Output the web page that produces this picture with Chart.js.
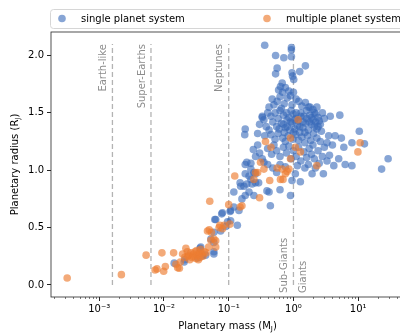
<!DOCTYPE html>
<html>
<head>
<meta charset="utf-8">
<script src="https://cdn.jsdelivr.net/npm/chart.js@4/dist/chart.umd.min.js"></script>
<style>
  html, body { margin: 0; padding: 0; overflow: hidden; background: #fff; }
  #wrap { width: 410px; height: 333px; }
</style>
</head>
<body>
<div id="wrap"><canvas id="chart" width="410" height="333"></canvas></div>
<script>
// [mass (M_J), radius (R_J)]
const singleNeptunes = [
  [0.0144,0.19],[0.0205,0.20],[0.021,0.22],[0.033,0.235],[0.039,0.255],[0.044,0.26],[0.059,0.27],
  [0.037,0.33],[0.053,0.40],[0.059,0.37],[0.059,0.29],[0.036,0.32],[0.059,0.46],
  [0.061,0.57],[0.078,0.62],[0.075,0.47],[0.063,0.57],[0.080,0.63],[0.090,0.51],[0.096,0.55],
  [0.105,0.64],[0.107,0.56],[0.136,0.52],[0.107,0.65],[0.12,0.68],[0.144,0.65],
  [0.12,0.81],[0.153,0.86],[0.172,0.86],[0.16,0.75],[0.206,0.81],[0.245,0.78],[0.206,0.95],
  [0.26,0.97],[0.29,0.89],[0.18,1.05],[0.22,1.06],[0.19,1.07],[0.18,0.97],[0.22,1.01],
  [0.245,0.98],[0.22,0.92],[0.19,0.88],[0.15,0.89],[0.23,0.88],[0.26,0.89],[0.18,0.78],
  [0.39,0.82],[0.42,0.81],[0.44,0.69],[0.62,0.83],[0.90,0.78],[0.18,1.36],[0.177,1.31]
];
const singlePlume = [
  [0.36,2.09],[0.93,2.07],[0.93,2.05],[0.93,1.99],[0.71,1.98],[0.53,2.00],[1.53,1.91],[1.25,1.86],
  [0.95,1.85],[0.56,1.89],[0.53,1.84],[1.01,1.79],[0.97,1.82],[0.67,1.76],[0.63,1.73],[0.59,1.70],
  [0.68,1.68],[0.85,1.69],[1.00,1.68],[0.75,1.72],[0.47,1.62],[0.56,1.60],[0.62,1.64],[0.80,1.63],
  [0.90,1.65],[1.21,1.60],[1.53,1.59],[1.72,1.55],[2.30,1.55],[0.42,1.55],[0.50,1.57],[0.72,1.58],
  [0.95,1.57],[1.10,1.62],[1.35,1.56],[0.65,1.54]
];
const singleCore = [
  [0.33,1.46],[0.35,1.44],[0.40,1.50],[0.45,1.47],[0.52,1.50],[0.58,1.45],[0.62,1.52],[0.70,1.48],
  [0.78,1.50],[0.85,1.46],[0.92,1.52],[1.00,1.49],[1.10,1.45],[1.30,1.50],[1.45,1.47],[1.60,1.52],
  [1.80,1.48],[2.00,1.44],[2.20,1.42],[2.40,1.46],[2.60,1.40],[2.10,1.38],[2.30,1.36],[2.50,1.43],
  [3.70,1.47],[5.20,1.48],[2.80,1.50],[3.00,1.45],
  [0.30,1.40],[0.38,1.38],[0.42,1.35],[0.48,1.42],[0.55,1.38],[0.60,1.36],[0.65,1.41],[0.72,1.33],
  [0.80,1.38],[0.88,1.35],[0.95,1.41],[1.05,1.36],[1.15,1.39],[1.25,1.33],[1.40,1.37],[1.55,1.41],
  [1.70,1.35],[1.90,1.40],[2.05,1.32],[2.70,1.34],[3.50,1.30],[4.40,1.30],[5.50,1.28],[10.4,1.34],
  [8.00,1.24],[12.5,1.23],
  [0.28,1.32],[0.36,1.30],[0.45,1.31],[0.52,1.27],[0.58,1.32],[0.68,1.28],[0.75,1.25],[0.83,1.30],
  [0.98,1.27],[1.08,1.31],[1.20,1.26],[1.35,1.29],[1.50,1.24],[1.65,1.30],[1.85,1.26],[2.00,1.22],
  [2.30,1.28],[2.60,1.25],[3.00,1.20],[3.30,1.24],[4.00,1.22],[6.00,1.20],
  [0.90,1.42],[1.05,1.44],[1.20,1.43],[1.40,1.42],[1.25,1.38],[1.60,1.45],[1.75,1.42],[2.20,1.49],
  [0.70,1.40],[0.80,1.44],[1.30,1.47],[1.10,1.50],[1.90,1.46],[2.10,1.50],[2.40,1.38],[1.50,1.33],
  [1.00,1.33],[0.75,1.37],[2.00,1.53],[1.80,1.55],[0.33,1.47]
];
const singleLower = [
  [0.28,1.22],[0.30,1.15],[0.33,1.10],[0.35,1.07],[0.40,1.19],[0.46,1.14],[0.50,1.22],[0.55,1.17],
  [0.62,1.12],[0.70,1.20],[0.78,1.15],[0.85,1.21],[0.92,1.10],[1.00,1.17],[1.10,1.12],[1.20,1.20],
  [1.30,1.08],[1.45,1.16],[1.60,1.11],[1.75,1.19],[1.90,1.14],[2.10,1.10],[2.40,1.17],[2.80,1.12],
  [3.30,1.08],[4.20,1.04],[6.30,1.05],[8.00,1.04],[29.0,1.10],[23.0,1.01],[2.90,0.97],[1.94,0.97],
  [2.18,1.02],[1.28,0.90],[0.95,0.91],[1.07,0.97],[0.62,1.05],[0.48,1.02],[0.40,1.05],[0.75,1.03],
  [1.50,1.02],[1.15,1.04],[0.55,0.98],[1.70,1.05],[2.50,1.06],[3.60,1.13],[5.00,1.10],[0.26,1.12],
  [0.24,1.18]
];
const multiSmall = [
  [0.00032,0.06],[0.0022,0.09],[0.0053,0.26],[0.0073,0.13],[0.0078,0.14],[0.0093,0.28],[0.0099,0.12],
  [0.0105,0.16],[0.0141,0.28],[0.0153,0.18],[0.0163,0.15],[0.0173,0.145],[0.0179,0.20],[0.0218,0.32],
  [0.0194,0.27],[0.0233,0.25],[0.024,0.26],[0.026,0.28],[0.027,0.24],[0.029,0.27],[0.030,0.29],
  [0.031,0.23],[0.033,0.26],[0.035,0.28],[0.036,0.24],[0.038,0.27],[0.040,0.25],[0.042,0.29],
  [0.025,0.22],[0.028,0.25],[0.032,0.30],[0.034,0.22],[0.045,0.28],[0.021,0.24],[0.023,0.29],
  [0.037,0.31],[0.049,0.33]
];
const multiLarge = [
  [0.050,0.48],[0.054,0.46],[0.051,0.73],[0.053,0.39],[0.063,0.385],[0.063,0.33],[0.059,0.40],
  [0.047,0.47],[0.073,0.52],[0.085,0.52],[0.071,0.50],[0.080,0.49],[0.10,0.70],[0.104,0.53],
  [0.15,0.68],[0.16,0.69],[0.124,0.95],[0.245,0.92],[0.26,0.98],[0.30,0.76],[0.28,0.98],[0.35,1.01],
  [0.43,0.91],[0.56,1.02],[0.67,1.01],[0.75,0.97],[0.69,0.92],[0.85,1.01],[0.80,0.99],[0.63,0.92],
  [0.37,1.25],[0.45,1.20],[0.90,1.28],[1.07,1.20],[1.28,1.16],[0.90,1.10],[0.31,1.07],[2.30,1.04],
  [1.18,1.44],[10.7,1.24],[9.9,1.16]
];

const seriesNames = ['single planet system', 'multiple planet system'];
const boundaryMass = [0.0016, 0.0063, 0.1, 1];
const boundaryTop = 2.1;
const topLabels = ['Earth-like', 'Super-Earths', 'Neptunes'];
const bottomLabels = ['Sub-Giants', 'Giants'];
const xTickValues = [1e-3, 1e-2, 1e-1, 1, 10];
const xTickLabels = ['10\u207B\u00B3', '10\u207B\u00B2', '10\u207B\u00B9', '10\u2070', '10\u00B9'];
const yTickValues = [0, 0.5, 1, 1.5, 2];

const blue = 'rgba(55, 105, 185, 0.6)';
const orange = 'rgba(237, 125, 49, 0.65)';
const FONT = '"DejaVu Sans", sans-serif';

const toPoints = arr => arr.map(([m, r]) => ({ x: m, y: r }));

// frame, minor ticks, region labels, legend and axis titles
const decor = {
  id: 'decor',
  afterDraw(chart) {
    const { ctx, chartArea: a, scales: { x, y } } = chart;
    ctx.save();
    ctx.strokeStyle = '#262626';
    ctx.lineWidth = 0.8;
    ctx.strokeRect(a.left, a.top, a.right - a.left, a.bottom - a.top);

    // minor log ticks
    ctx.beginPath();
    for (let k = -4; k <= 1; k++) {
      for (let m = 2; m <= 9; m++) {
        const v = m * Math.pow(10, k);
        if (v < x.min || v > x.max) continue;
        const px = Math.round(x.getPixelForValue(v)) + 0.5;
        ctx.moveTo(px, a.bottom);
        ctx.lineTo(px, a.bottom + 2);
      }
    }
    ctx.lineWidth = 0.6;
    ctx.stroke();

    // region labels
    ctx.fillStyle = '#8c8c8c';
    ctx.font = '10px ' + FONT;
    ctx.textBaseline = 'middle';
    topLabels.forEach((t, i) => {
      ctx.save();
      ctx.translate(x.getPixelForValue(boundaryMass[i]) - 9, y.getPixelForValue(boundaryTop));
      ctx.rotate(-Math.PI / 2);
      ctx.textAlign = 'right';
      ctx.fillText(t, 0, 0);
      ctx.restore();
    });
    const gx = x.getPixelForValue(boundaryMass[3]);
    const gy = y.getPixelForValue(0) + 8;
    [[bottomLabels[0], -9], [bottomLabels[1], 10]].forEach(([t, dx]) => {
      ctx.save();
      ctx.translate(gx + dx, gy);
      ctx.rotate(-Math.PI / 2);
      ctx.textAlign = 'left';
      ctx.fillText(t, 0, 0);
      ctx.restore();
    });

    // legend
    const lx = a.left - 1, ly = 9, lw = a.right - a.left + 1, lh = 19;
    ctx.beginPath();
    ctx.roundRect(lx + 0.5, ly + 0.5, lw, lh, 3);
    ctx.fillStyle = 'rgba(255,255,255,0.8)';
    ctx.fill();
    ctx.strokeStyle = '#d6d6d6';
    ctx.lineWidth = 1;
    ctx.stroke();
    ctx.font = '10px ' + FONT;
    ctx.textAlign = 'left';
    [[blue, 12], [orange, 217]].forEach(([c, off], i) => {
      ctx.beginPath();
      ctx.arc(lx + off, ly + lh / 2, 3.8, 0, Math.PI * 2);
      ctx.fillStyle = c;
      ctx.fill();
      ctx.fillStyle = '#000';
      ctx.fillText(seriesNames[i], lx + off + 19, ly + lh / 2 + 0.5);
    });

    // axis titles with subscript J
    const title = (pre, sub, post, cx, cy, rot) => {
      ctx.save();
      ctx.translate(cx, cy);
      if (rot) ctx.rotate(-Math.PI / 2);
      ctx.font = '10px ' + FONT;
      const w1 = ctx.measureText(pre).width;
      ctx.font = '7px ' + FONT;
      const w2 = ctx.measureText(sub).width;
      ctx.font = '10px ' + FONT;
      const w3 = ctx.measureText(post).width;
      let sx = -(w1 + w2 + w3) / 2;
      ctx.fillStyle = '#000';
      ctx.textAlign = 'left';
      ctx.textBaseline = 'alphabetic';
      ctx.fillText(pre, sx, 3.5);
      ctx.font = '7px ' + FONT;
      ctx.fillText(sub, sx + w1, 5.5);
      ctx.font = '10px ' + FONT;
      ctx.fillText(post, sx + w1 + w2, 3.5);
      ctx.restore();
    };
    title('Planetary mass (M', 'J', ')', (a.left + a.right) / 2, 325, false);
    title('Planetary radius (R', 'J', ')', 14, (a.top + a.bottom) / 2, true);
    ctx.restore();
  }
};

const lineSets = boundaryMass.map(m => ({
  type: 'line',
  data: [{ x: m, y: 0 }, { x: m, y: boundaryTop }],
  borderColor: '#b3b3b3',
  borderWidth: 1.3,
  borderDash: [5, 3],
  pointRadius: 0,
  order: 5
}));

new Chart(document.getElementById('chart').getContext('2d'), {
  type: 'scatter',
  data: {
    datasets: [
      {
        label: seriesNames[0],
        data: toPoints([...singleNeptunes, ...singlePlume, ...singleCore, ...singleLower]),
        backgroundColor: blue,
        borderWidth: 0,
        pointRadius: 3.8,
        order: 2
      },
      {
        label: seriesNames[1],
        data: toPoints([...multiSmall, ...multiLarge]),
        backgroundColor: orange,
        borderWidth: 0,
        pointRadius: 3.8,
        order: 1
      },
      ...lineSets
    ]
  },
  options: {
    responsive: false,
    animation: false,
    devicePixelRatio: 1,
    layout: { padding: { top: 32, right: 6, left: 0, bottom: 0 } },
    plugins: { legend: { display: false }, tooltip: { enabled: false } },
    scales: {
      x: {
        type: 'logarithmic',
        min: 1.8e-4,
        max: 51,
        afterBuildTicks: s => { s.ticks = xTickValues.map(v => ({ value: v, major: true })); },
        afterFit: s => { s.height = 36; },
        ticks: {
          autoSkip: false,
          maxRotation: 0,
          padding: 2,
          color: '#000',
          font: { size: 10, family: FONT },
          callback: (v, i) => xTickLabels[i]
        },
        grid: { drawOnChartArea: false, tickLength: 4, color: '#262626' },
        border: { display: false }
      },
      y: {
        min: -0.105,
        max: 2.205,
        afterBuildTicks: s => { s.ticks = yTickValues.map(v => ({ value: v })); },
        afterFit: s => { s.width = 51; },
        ticks: {
          padding: 3,
          color: '#000',
          font: { size: 10, family: FONT },
          callback: v => v.toFixed(1)
        },
        grid: { drawOnChartArea: false, tickLength: 4, color: '#262626' },
        border: { display: false }
      }
    }
  },
  plugins: [decor]
});
</script>
</body>
</html>
